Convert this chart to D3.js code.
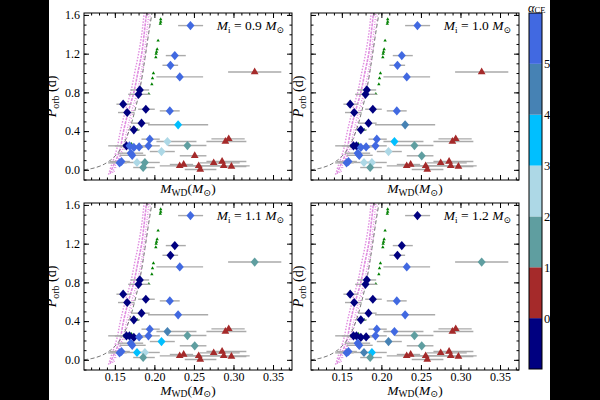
<!DOCTYPE html>
<html>
<head>
<meta charset="utf-8">
<script src="https://cdn.jsdelivr.net/npm/d3@7"></script>
<style>
  body { margin: 0; background: #000; }
  svg { display: block; }
</style>
</head>
<body>
<svg id="chart" width="600" height="400"></svg>
<script>
// observed systems: WD mass, orbital period (d), mass error range, period error
const mwd = [0.2456, 0.2258, 0.2203, 0.2321, 0.3268, 0.1816, 0.1799, 0.1605, 0.1656, 0.1892,
  0.2195, 0.1837, 0.2300, 0.1740, 0.1942, 0.2165, 0.2418, 0.1647, 0.1685, 0.1740,
  0.1807, 0.1925, 0.2090, 0.1700, 0.1720, 0.1584, 0.1560, 0.1780, 0.1880, 0.1858,
  0.2940, 0.2898, 0.2510, 0.2320, 0.2370, 0.2560, 0.2580, 0.2750, 0.2856, 0.2877, 0.2974];
const porb = [1.49, 1.18, 1.08, 0.96, 1.01, 0.825, 0.78, 0.678, 0.592, 0.626,
  0.609, 0.482, 0.465, 0.413, 0.317, 0.292, 0.251, 0.248, 0.248, 0.231,
  0.237, 0.248, 0.189, 0.172, 0.150, 0.086, 0.072, 0.076, 0.076, 0.024,
  0.320, 0.292, 0.145, 0.041, 0.055, 0.041, 0.003, 0.072, 0.086, 0.041, 0.034];
const mwdLo = [0.230, 0.2144, 0.2102, 0.2026, 0.2932, 0.1698, 0.1668, 0.152, 0.154, 0.1795,
  0.2068, 0.171, 0.192, 0.1668, 0.1837, 0.2026, 0.2174, 0.1416, 0.150, 0.1605,
  0.171, 0.1774, 0.1942, 0.154, 0.156, 0.1437, 0.1416, 0.1647, 0.1774, 0.1732,
  0.2721, 0.2658, 0.2321, 0.2068, 0.2195, 0.2363, 0.2384, 0.2574, 0.2658, 0.2574, 0.2826];
const mwdHi = [0.2616, 0.2397, 0.230, 0.2616, 0.3605, 0.1934, 0.1942, 0.171, 0.175, 0.2005,
  0.232, 0.194, 0.268, 0.1816, 0.2068, 0.2532, 0.2658, 0.1774, 0.180, 0.1858,
  0.190, 0.2068, 0.2258, 0.1858, 0.189, 0.169, 0.165, 0.190, 0.2068, 0.2005,
  0.3142, 0.3163, 0.2658, 0.2616, 0.249, 0.2826, 0.2784, 0.3079, 0.3163, 0.3205, 0.3163];
const porbErr = [0, 0, 0, 0, 0, 0.03, 0.03, 0.035, 0.025, 0.03,
  0, 0.03, 0, 0.03, 0.02, 0, 0, 0.025, 0, 0,
  0, 0, 0, 0, 0, 0, 0, 0, 0, 0,
  0, 0, 0, 0, 0, 0, 0, 0, 0, 0, 0];

// alpha_CE class of each system, one list per initial mass
// 0: <0, 1: 0-1, 2: 1-2, 3: 2-3, 4: 3-4, 5: 4-5, 6: >5
const alpha09 = [6, 6, 6, 6, 1, 0, 0, 0, 0, 0, 6, 0, 4, 0, 6, 3, 2, 0, 6, 6,
  6, 6, 3, 6, 6, 6, 6, 3, 2, 2, 1, 1, 1, 1, 1, 1, 1, 1, 1, 1, 1];
const alpha10 = [6, 6, 6, 6, 1, 0, 0, 0, 0, 0, 6, 0, 5, 0, 6, 4, 2, 0, 0, 6,
  6, 6, 3, 6, 6, 6, 6, 3, 3, 2, 1, 1, 2, 1, 1, 1, 1, 1, 1, 1, 1];
const alpha11 = [6, 0, 0, 6, 2, 0, 0, 0, 0, 0, 6, 0, 6, 0, 6, 5, 2, 0, 0, 0,
  6, 6, 4, 6, 6, 6, 6, 4, 3, 2, 1, 1, 2, 1, 1, 1, 1, 1, 1, 1, 1];
const alpha12 = [0, 0, 0, 6, 2, 0, 0, 0, 0, 0, 6, 0, 6, 0, 6, 6, 2, 0, 0, 0,
  0, 6, 5, 6, 6, 6, 6, 5, 4, 2, 1, 1, 2, 1, 1, 1, 1, 1, 1, 1, 1];

const classColors = ['#000080', '#a52a2a', '#5f9ea0', '#add8e6', '#00bfff', '#4682b4', '#4169e1'];
const cbarTicks = [0, 1, 2, 3, 4, 5];

// model tracks
const pinkAM = [0.142, 0.145, 0.148, 0.152, 0.157, 0.163, 0.170, 0.175, 0.180, 0.184, 0.187];
const pinkAP = [-0.05, 0.03, 0.1, 0.2, 0.4, 0.6, 0.8, 1.0, 1.2, 1.4, 1.62];
const pinkBM = [0.144, 0.148, 0.152, 0.156, 0.161, 0.167, 0.174, 0.179, 0.184, 0.187, 0.190];
const pinkBP = [-0.04, 0.04, 0.11, 0.2, 0.4, 0.6, 0.8, 1.0, 1.2, 1.4, 1.62];
const pinkCM = [0.147, 0.151, 0.155, 0.159, 0.165, 0.171, 0.178, 0.183, 0.187, 0.190, 0.193];
const pinkCP = [-0.03, 0.05, 0.12, 0.2, 0.4, 0.6, 0.8, 1.0, 1.2, 1.4, 1.62];
const pinkDM = [0.149, 0.153, 0.157, 0.161, 0.167, 0.173, 0.180, 0.185, 0.189, 0.192, 0.195];
const pinkDP = [-0.02, 0.06, 0.13, 0.2, 0.4, 0.6, 0.8, 1.0, 1.2, 1.4, 1.62];
const dashM = [0.111, 0.12, 0.13, 0.14, 0.15, 0.16, 0.167, 0.175, 0.182, 0.188, 0.193, 0.197];
const dashP = [0.0, 0.012, 0.035, 0.075, 0.14, 0.25, 0.38, 0.6, 0.85, 1.15, 1.42, 1.62];
const greenM = [0.208, 0.208, 0.2075, 0.2047, 0.2035, 0.2027, 0.2022, 0.2018, 0.1988, 0.1976, 0.1968, 0.193, 0.1787, 0.171];
const greenP = [1.555, 1.53, 1.51, 1.335, 1.245, 1.22, 1.2, 1.163, 0.998, 0.946, 0.884, 0.785, 0.413, 0.268];

const xTicks = [0.15, 0.20, 0.25, 0.30, 0.35];
const yTicks = [0.0, 0.4, 0.8, 1.2, 1.6];

const xDomain = [0.111, 0.374];
const yDomain = [-0.105, 1.62];
const pw = 208;
const ph = 167;
const font = '"Liberation Serif", "DejaVu Serif", serif';

const svg = d3.select('#chart');

// white canvas between the black borders
svg.append('rect')
  .attr('x', 49).attr('y', 0)
  .attr('width', 501).attr('height', 400)
  .attr('fill', '#fff');

const panels = [
  { mi: '0.9', cls: alpha09, left: 84, top: 13, xLab: false, yLab: true },
  { mi: '1.0', cls: alpha10, left: 311, top: 13, xLab: false, yLab: false },
  { mi: '1.1', cls: alpha11, left: 84, top: 203, xLab: true, yLab: true },
  { mi: '1.2', cls: alpha12, left: 311, top: 203, xLab: true, yLab: false },
];

const diamond = 'M0,-4.6L4,0L0,4.6L-4,0Z';
const triangle = d3.symbol(d3.symbolTriangle, 26)();
const greenTri = d3.symbol(d3.symbolTriangle, 5)();

function track(ms, ps) {
  return ms.map((m, i) => [m, ps[i]]);
}

panels.forEach((p, pi) => {
  const x = d3.scaleLinear().domain(xDomain).range([0, pw]);
  const y = d3.scaleLinear().domain(yDomain).range([ph, 0]);

  const g = svg.append('g')
    .attr('transform', `translate(${p.left},${p.top})`);

  g.append('clipPath').attr('id', `clip${pi}`)
    .append('rect').attr('width', pw).attr('height', ph);

  const plot = g.append('g').attr('clip-path', `url(#clip${pi})`);

  const line = d3.line()
    .x((d) => x(d[0]))
    .y((d) => y(d[1]))
    .curve(d3.curveMonotoneY);

  // pink model band
  [
    [pinkAM, pinkAP, '1.5,1.5', 1.4],
    [pinkBM, pinkBP, '3,1', 1.6],
    [pinkCM, pinkCP, '1,1.5', 1.3],
    [pinkDM, pinkDP, '1,3', 1.2],
  ].forEach(([ms, ps, dash, w]) => {
    plot.append('path')
      .datum(track(ms, ps))
      .attr('d', line)
      .attr('fill', 'none')
      .attr('stroke', '#e08ee0')
      .attr('stroke-width', w)
      .attr('stroke-dasharray', dash);
  });

  // gray dashed relation
  plot.append('path')
    .datum(track(dashM, dashP))
    .attr('d', line)
    .attr('fill', 'none')
    .attr('stroke', '#777')
    .attr('stroke-width', 1)
    .attr('stroke-dasharray', '4,2.5');

  // green model points
  plot.selectAll('.green')
    .data(greenM)
    .enter()
    .append('path')
    .attr('d', greenTri)
    .attr('transform', (d, i) => `translate(${x(d)},${y(greenP[i])})`)
    .attr('fill', '#008000');

  const idx = d3.range(mwd.length);

  // error bars
  plot.selectAll('.xerr')
    .data(idx)
    .enter()
    .append('line')
    .attr('x1', (i) => x(mwdLo[i]))
    .attr('x2', (i) => x(mwdHi[i]))
    .attr('y1', (i) => y(porb[i]))
    .attr('y2', (i) => y(porb[i]))
    .attr('stroke', '#aaa')
    .attr('stroke-width', 1.4);

  plot.selectAll('.yerr')
    .data(idx.filter((i) => porbErr[i] > 0))
    .enter()
    .append('line')
    .attr('x1', (i) => x(mwd[i]))
    .attr('x2', (i) => x(mwd[i]))
    .attr('y1', (i) => y(porb[i] - porbErr[i]))
    .attr('y2', (i) => y(porb[i] + porbErr[i]))
    .attr('stroke', '#aaa')
    .attr('stroke-width', 1.4);

  // markers
  plot.selectAll('.pt')
    .data(idx)
    .enter()
    .append('path')
    .attr('d', (i) => (p.cls[i] === 1 ? triangle : diamond))
    .attr('transform', (i) => `translate(${x(mwd[i])},${y(porb[i])})`)
    .attr('fill', (i) => classColors[p.cls[i]]);

  // axes with inward ticks on all sides
  const xMinor = x.ticks(30);
  const yMinor = y.ticks(20);
  const axes = [
    [d3.axisBottom(x), `translate(0,${ph})`, p.xLab, xMinor, xTicks, d3.format('.2f'), 2],
    [d3.axisTop(x), 'translate(0,0)', false, xMinor, xTicks, null, 2],
    [d3.axisLeft(y), 'translate(0,0)', p.yLab, yMinor, yTicks, d3.format('.1f'), 4],
    [d3.axisRight(y), `translate(${pw},0)`, false, yMinor, yTicks, null, 4],
  ];
  axes.forEach(([axis, tr, lab, minor, major, fmt, pad]) => {
    g.append('g')
      .attr('transform', tr)
      .call(axis.tickValues(minor).tickSize(-2.5).tickFormat(''))
      .call((s) => s.select('.domain').remove());
    g.append('g')
      .attr('transform', tr)
      .call(axis.tickValues(major).tickSize(-5).tickPadding(pad)
        .tickFormat(lab ? fmt : ''))
      .call((s) => s.select('.domain').remove())
      .call((s) => s.selectAll('text')
        .style('font-family', font)
        .style('font-size', '12px')
        .attr('fill', '#000'));
  });

  g.append('rect')
    .attr('width', pw).attr('height', ph)
    .attr('fill', 'none')
    .attr('stroke', '#000')
    .attr('stroke-width', 1);

  // initial mass note
  const note = g.append('text')
    .attr('x', pw - 8)
    .attr('y', 17)
    .attr('text-anchor', 'end')
    .style('font-family', font)
    .style('font-size', '13.5px');
  note.append('tspan').style('font-style', 'italic').text('M');
  note.append('tspan').attr('dy', 3).style('font-size', '9px').text('i');
  note.append('tspan').attr('dy', -3).text(` = ${p.mi} `);
  note.append('tspan').style('font-style', 'italic').text('M');
  note.append('tspan').attr('dy', 3).style('font-size', '9px').text('\u2299');

  // x label
  const xl = g.append('text')
    .attr('x', pw / 2)
    .attr('y', p.xLab ? ph + 24.5 : ph + 13)
    .attr('text-anchor', 'middle')
    .style('font-family', font)
    .style('font-size', '13.5px');
  xl.append('tspan').style('font-style', 'italic').text('M');
  xl.append('tspan').attr('dy', 2.5).style('font-size', '9.5px').text('WD');
  xl.append('tspan').attr('dy', -2.5).text('(');
  xl.append('tspan').style('font-style', 'italic').text('M');
  xl.append('tspan').attr('dy', 2.5).style('font-size', '9.5px').text('\u2299');
  xl.append('tspan').attr('dy', -2.5).text(')');

  // y label
  const yl = g.append('text')
    .attr('transform', `translate(${p.yLab ? -28 : -8},${ph / 2}) rotate(-90)`)
    .attr('text-anchor', 'middle')
    .style('font-family', font)
    .style('font-size', '14px');
  yl.append('tspan').style('font-style', 'italic').text('P');
  yl.append('tspan').attr('dy', 3).style('font-size', '10px').text('orb');
  yl.append('tspan').attr('dy', -3).text(' (d)');
});

// colour bar
const cx = 529;
const cw = 13;
const yc = d3.scaleLinear().domain([-1, 6]).range([369, 13]);
const cbar = svg.append('g');
cbar.selectAll('rect')
  .data(classColors)
  .enter()
  .append('rect')
  .attr('x', cx)
  .attr('y', (d, i) => yc(i))
  .attr('width', cw)
  .attr('height', (d, i) => yc(i - 1) - yc(i))
  .attr('fill', (d) => d);
cbar.append('rect')
  .attr('x', cx).attr('y', yc(6))
  .attr('width', cw).attr('height', yc(-1) - yc(6))
  .attr('fill', 'none').attr('stroke', '#000');
cbar.selectAll('.lab')
  .data(cbarTicks)
  .enter()
  .append('text')
  .attr('x', cx + cw + 2)
  .attr('y', (d) => yc(d))
  .attr('dy', '0.35em')
  .style('font-family', font)
  .style('font-size', '12.5px')
  .text((d) => d);

const ct = svg.append('text')
  .attr('x', cx - 1)
  .attr('y', 11.5)
  .style('font-family', font)
  .style('font-size', '12.5px');
ct.append('tspan').style('font-style', 'italic').text('\u03b1');
ct.append('tspan').attr('dy', 1.5).style('font-size', '8.5px').text('CE');
</script>
</body>
</html>
